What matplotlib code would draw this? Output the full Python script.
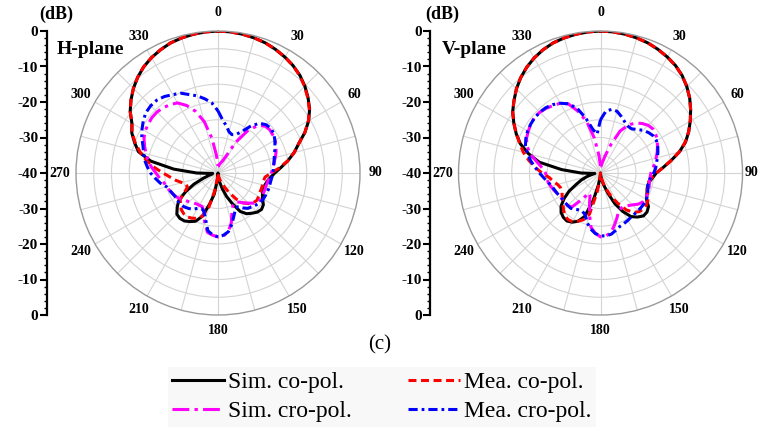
import numpy as np
import matplotlib
matplotlib.use('Agg')
import matplotlib.pyplot as plt
from matplotlib.lines import Line2D

# ---------------- data (dB values every 5 degrees, 0..360) ----------------
angles_deg = np.arange(0, 365, 5)

h_sim_co = [0, -0.1, -0.3, -0.6, -1.0, -1.6, -2.3, -3.1, -4.1, -5.4, -6.9, -8.5,
            -10.5, -13.0, -15.8, -17.8, -20.0, -22.2, -24.0, -25.2, -26.0, -26.4, -26.4, -26.2,
            -25.5, -24.4, -24.0, -24.4, -25.2, -26.0, -27.5, -30.5, -33.0, -35.5, -37.5, -39.0,
            -40.0, -38.0, -34.0, -31.0, -27.0, -25.0, -24.2, -23.5, -23.3, -23.6, -25.0, -26.5,
            -29.5, -32.5, -35.5, -37.3, -38.3, -38.5, -34.0, -27.5, -20.8, -16.8, -15.0, -13.2,
            -12.0, -9.8, -8.0, -6.3, -4.8, -3.5, -2.5, -1.7, -1.0, -0.6, -0.3, -0.1, 0]
h_mea_co = [0, -0.1, -0.3, -0.6, -1.0, -1.6, -2.3, -3.1, -4.2, -5.5, -7.0, -8.6,
            -10.6, -13.0, -15.8, -17.8, -20.0, -22.5, -25.0, -26.7, -27.0, -27.0, -27.0, -27.0,
            -26.8, -26.6, -27.0, -27.8, -29.0, -31.0, -33.5, -35.5, -37.0, -38.0, -39.0, -39.5,
            -40.0, -39.0, -35.0, -30.0, -27.0, -25.9, -25.3, -24.9, -25.0, -25.4, -26.2, -27.0,
            -29.0, -30.5, -30.5, -29.5, -28.0, -26.5, -24.5, -22.0, -19.5, -17.3, -15.2, -13.3,
            -12.0, -9.8, -8.0, -6.3, -4.8, -3.5, -2.5, -1.7, -1.0, -0.6, -0.3, -0.1, 0]
h_sim_cro = [-38.0, -38.0, -37.5, -37.0, -36.5, -35.0, -30.0, -25.5, -22.5, -21.3, -21.0, -21.2,
             -21.4, -22.0, -22.6, -23.3, -24.0, -24.5, -25.0, -25.5, -25.8, -26.0, -26.0, -26.0,
             -25.8, -26.0, -26.8, -28.0, -29.0, -30.0, -30.5, -30.0, -28.5, -25.5, -23.3, -22.2,
             -22.0, -22.4, -23.0, -25.5, -28.5, -29.5, -29.5, -29.4, -29.0, -28.5, -28.0, -27.2,
             -26.5, -26.0, -25.5, -25.0, -24.5, -23.5, -22.5, -21.2, -20.0, -19.0, -18.0, -17.0,
             -16.3, -16.0, -15.7, -15.7, -16.0, -16.5, -17.2, -19.0, -21.5, -25.0, -30.0, -35.0, -38.0]
h_mea_cro = [-22.5, -25.0, -26.5, -28.0, -28.5, -28.0, -26.5, -23.8, -21.7, -20.8, -20.5, -20.8,
             -21.5, -22.3, -23.0, -23.6, -24.0, -24.3, -24.5, -24.8, -25.0, -25.0, -25.1, -25.2,
             -25.3, -25.5, -26.0, -26.5, -27.0, -28.0, -29.0, -28.5, -27.0, -25.0, -23.2, -22.4,
             -22.0, -22.5, -23.5, -26.5, -28.5, -29.0, -28.5, -27.5, -27.0, -26.5, -26.3, -26.2,
             -26.3, -26.0, -25.6, -25.0, -23.5, -22.3, -21.0, -20.0, -19.0, -18.3, -17.5, -16.3,
             -15.3, -14.3, -13.5, -13.2, -13.2, -13.7, -14.5, -15.2, -16.5, -17.5, -18.8, -20.2, -22.5]

v_sim_co = [0, -0.1, -0.3, -0.6, -1.0, -1.6, -2.3, -3.1, -4.2, -5.6, -7.2, -9.0,
            -10.8, -12.6, -14.5, -17.0, -19.8, -22.3, -24.3, -25.2, -26.0, -26.2, -26.0, -25.6,
            -25.0, -23.5, -22.9, -22.9, -23.8, -25.0, -27.5, -30.5, -34.0, -36.5, -38.0, -39.3,
            -40.0, -39.0, -36.5, -32.0, -27.0, -25.0, -24.0, -23.5, -23.7, -24.3, -25.5, -27.5,
            -29.8, -32.5, -34.3, -36.0, -37.5, -38.4, -34.5, -29.0, -22.5, -19.0, -16.0, -13.8,
            -11.8, -9.8, -8.2, -6.5, -5.0, -3.7, -2.6, -1.7, -1.0, -0.6, -0.3, -0.1, 0]
v_mea_co = [0, -0.1, -0.3, -0.6, -1.0, -1.6, -2.3, -3.1, -4.2, -5.6, -7.2, -9.0,
            -10.8, -12.6, -14.6, -17.0, -19.8, -22.3, -24.3, -25.4, -26.2, -26.4, -26.0, -25.4,
            -24.6, -24.2, -24.2, -24.6, -25.5, -27.3, -30.0, -32.5, -35.0, -37.0, -38.5, -39.5,
            -40.0, -38.0, -34.5, -28.0, -26.0, -25.0, -24.2, -24.0, -24.4, -25.3, -26.2, -27.0,
            -27.5, -28.0, -28.0, -27.5, -26.5, -25.5, -23.5, -21.5, -19.5, -17.5, -15.8, -13.8,
            -11.8, -9.8, -8.2, -6.5, -5.0, -3.7, -2.6, -1.7, -1.0, -0.6, -0.3, -0.1, 0]
v_sim_cro = [-38.0, -38.0, -37.0, -35.0, -31.5, -27.0, -24.4, -22.8, -21.8, -21.0, -20.7, -21.0,
             -21.5, -22.3, -23.0, -23.8, -24.5, -25.2, -25.8, -26.0, -26.0, -25.8, -25.6, -25.5,
             -25.5, -25.6, -26.3, -27.3, -28.0, -28.5, -28.5, -28.0, -26.5, -24.8, -23.0, -22.2,
             -22.0, -23.0, -24.5, -28.0, -31.0, -33.0, -33.5, -31.0, -27.5, -27.0, -27.0, -27.0,
             -26.7, -26.5, -26.0, -25.5, -25.0, -24.8, -24.5, -23.5, -21.8, -19.5, -18.0, -17.0,
             -16.5, -16.0, -15.7, -15.8, -16.2, -16.8, -17.3, -18.5, -21.5, -25.0, -30.0, -35.0, -38.0]
v_mea_cro = [-25.0, -22.5, -21.8, -22.0, -23.0, -24.0, -24.7, -24.8, -24.0, -23.0, -22.3, -21.8,
             -21.8, -22.2, -22.8, -23.4, -24.0, -24.4, -25.0, -25.8, -26.2, -26.2, -25.8, -25.4,
             -25.1, -25.0, -25.0, -25.0, -25.0, -24.9, -24.6, -24.3, -24.0, -23.3, -22.5, -22.2,
             -22.3, -22.9, -24.0, -25.5, -27.5, -28.0, -28.0, -27.5, -27.0, -27.0, -27.0, -27.0,
             -26.8, -26.5, -26.2, -25.8, -25.0, -24.0, -22.8, -21.5, -20.0, -18.7, -17.5, -16.8,
             -16.3, -16.0, -15.8, -15.8, -16.0, -16.5, -17.3, -18.5, -20.5, -24.0, -27.5, -29.0, -25.0]

angle_labels = [0, 30, 60, 90, 120, 150, 180, 210, 240, 270, 300, 330]
db_tick_pos = [40, 30, 20, 10, 0, -10, -20, -30, -40]
db_tick_labels = ['0', '-10', '-20', '-30', '-40', '-30', '-20', '-10', '0']
series_labels = ['Sim. co-pol.', 'Mea. co-pol.', 'Sim. cro-pol.', 'Mea. cro-pol.']

# ---------------- styles ----------------
SERIF = 'Liberation Serif'
styles = [
    dict(color='black', lw=2.2, linestyle='-'),
    dict(color='#ff0000', lw=2.2, linestyle=(0, (2.6, 1.5))),
    dict(color='#ff00ff', lw=2.2, linestyle=(0, (5.5, 1.7, 1.1, 1.7))),
    dict(color='#0000ff', lw=2.2, linestyle=(0, (3.0, 1.3, 0.9, 1.3))),
]

W, H = 759, 429
R = 142
CY = 173

fig = plt.figure(figsize=(W / 100, H / 100), dpi=100)
fig.patch.set_facecolor('white')


def make_polar(cx, series, plane_label, spine_x, db_x):
    ax = fig.add_axes([(cx - R) / W, (H - CY - R) / H, 2 * R / W, 2 * R / H],
                      projection='polar')
    ax.set_theta_zero_location('N')
    ax.set_theta_direction(-1)
    ax.set_ylim(-40, 0)
    ax.set_yticks([-35, -30, -25, -20, -15, -10, -5])
    ax.set_yticklabels([])
    ax.set_xticks(np.deg2rad(np.arange(0, 360, 15)))
    ax.set_xticklabels([])
    ax.grid(True, color='#d4d4d4', lw=0.8)
    ax.spines['polar'].set_color('#9a9a9a')
    ax.spines['polar'].set_linewidth(1.0)
    th = np.deg2rad(angles_deg)
    for vals, st in zip(series, styles):
        ax.plot(th, vals, **st)
    for a in angle_labels:
        rr = 5.3 if a == 0 else 4.5
        if a == 90 and cx + 1.11 * R + 10 > W:
            fig.text((W - 1) / W, 1 - CY / H, str(a), ha='right', va='center',
                     fontsize=10, fontweight='bold', family=SERIF)
            continue
        ax.text(np.deg2rad(a), rr, str(a), ha='center', va='center',
                fontsize=10, fontweight='bold', family=SERIF, clip_on=False)

    # left dB scale
    axl = fig.add_axes([spine_x / W, (H - CY - R) / H, 0.0005, 2 * R / H])
    axl.set_ylim(-40, 40)
    for s in ['top', 'right', 'bottom']:
        axl.spines[s].set_visible(False)
    axl.spines['left'].set_linewidth(1.6)
    axl.set_xticks([])
    axl.set_yticks(db_tick_pos)
    axl.set_yticklabels(db_tick_labels, fontweight='bold', family=SERIF, fontsize=11)
    axl.set_yticks(np.arange(-40, 41, 2), minor=True)
    axl.tick_params(axis='y', which='major', length=5, width=1.5, pad=1)
    axl.tick_params(axis='y', which='minor', length=2.5, width=1.0)
    axl.patch.set_visible(False)

    fig.text(db_x / W, 1 - 14 / H, '(dB)', ha='center', va='center',
             fontsize=13, fontweight='bold', family=SERIF)
    fig.text((spine_x + 44) / W, 1 - 50 / H, plane_label, ha='center', va='center',
             fontsize=14, fontweight='bold', family=SERIF)
    return ax


make_polar(218, [h_sim_co, h_mea_co, h_sim_cro, h_mea_cro], 'H-plane', 46.5, 56)
make_polar(600.5, [v_sim_co, v_mea_co, v_sim_cro, v_mea_cro], 'V-plane', 430, 442)

fig.text(380 / W, 1 - 345 / H, '(c)', ha='center', va='center', fontsize=15, family=SERIF)

handles = [Line2D([], [], **st) for st in styles]
order = [0, 2, 1, 3]
leg = fig.legend([handles[i] for i in order], [series_labels[i] for i in order],
                 ncol=2, loc='center', bbox_to_anchor=(0.503, 1 - 397 / H),
                 frameon=True, facecolor='#f7f7f7', edgecolor='none', fancybox=False,
                 prop={'family': SERIF, 'size': 17}, handlelength=2.2,
                 handletextpad=0.15, columnspacing=2.4, labelspacing=0.3,
                 borderpad=0.2)

fig.savefig('out.png', dpi=100)
